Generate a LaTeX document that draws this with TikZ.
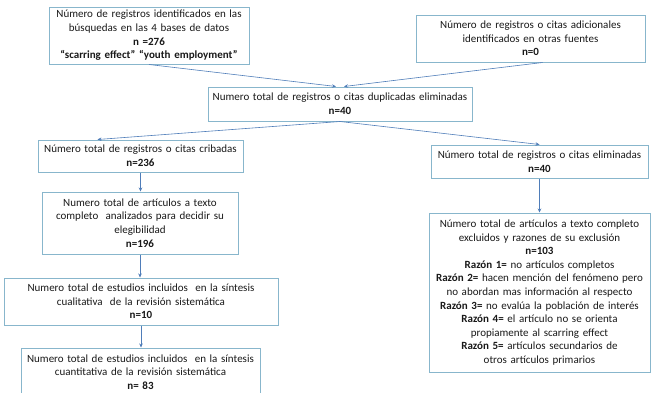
\documentclass[tikz,border=0pt]{standalone}
\usepackage{fontspec}
\setmainfont{Carlito}
\usetikzlibrary{calc,arrows.meta}
\definecolor{borde}{RGB}{136,182,204}
\definecolor{linea}{RGB}{79,125,185}
\definecolor{texto}{RGB}{25,25,25}
\tikzset{
  caja/.style={draw=borde,line width=1pt,fill=white,align=center,inner xsep=2pt,inner ysep=1pt,
    text=texto,font=\fontsize{11}{13.6}\selectfont},
  flecha/.style={draw=linea,line width=0.6pt,-{Stealth[length=4pt,width=3.5pt]}}
}
\newcommand\Caja[6]{
  \node[caja,text width=#4,minimum height=#5] (#1) at (#2,#3) {#6};
}
\begin{document}
\begin{tikzpicture}[x=1pt,y=-1pt]
\useasboundingbox[fill=white] (0,0) rectangle (653,392);
\Caja{busqueda}{149}{35.5}{196pt}{57pt}{Número de registros identificados en las\\búsquedas en las 4 bases de datos\\\textbf{n =276}\\\textbf{“scarring effect” “youth employment”}}
\Caja{otras}{530.5}{38.5}{225pt}{47pt}{Número de registros o citas adicionales\\identificados en otras fuentes\\\textbf{n=0}}
\Caja{duplicadas}{340}{104}{260pt}{34pt}{Numero total de registros o citas duplicadas eliminadas\\\textbf{n=40}}
\Caja{cribadas}{140.5}{156}{201pt}{32pt}{Número total de registros o citas cribadas\\\textbf{n=236}}
\Caja{eliminadas}{539.5}{161.5}{213pt}{33pt}{Número total de registros o citas eliminadas\\\textbf{n=40}}
\Caja{elegibilidad}{140}{223}{192pt}{62pt}{Numero total de artículos a texto\\completo~ analizados para decidir su\\elegibilidad\\\textbf{n=196}}
\Caja{cualitativa}{141}{301.5}{270pt}{47pt}{Numero total de estudios incluidos~ en la síntesis\\cualitativa~ de la revisión sistemática\\\textbf{n=10}}
\Caja{cuantitativa}{140.5}{372}{235pt}{48pt}{Numero total de estudios incluidos~ en la síntesis\\cuantitativa de la revisión sistemática\\\textbf{n= 83}}
\Caja{excluidos}{539.5}{292.5}{217pt}{159pt}{Número total de artículos a texto completo\\excluidos y razones de su exclusión\\\textbf{n=103}\\\textbf{Razón 1=} no artículos completos\\\textbf{Razón 2=} hacen mención del fenómeno pero\\no abordan mas información al respecto\\\textbf{Razón 3=} no evalúa la población de interés\\\textbf{Razón 4=} el artículo no se orienta\\propiamente al scarring effect\\\textbf{Razón 5=} artículos secundarios de\\otros artículos primarios}
\draw[flecha] (busqueda.south) -- ($(duplicadas.north)+(-4,0)$);
\draw[flecha] ($(otras.south)+(12,0)$) -- ($(duplicadas.north)+(4,0)$);
\draw[flecha] (duplicadas.south) -- ($(cribadas.north)+(-43,0)$);
\draw[flecha] (duplicadas.south) -- (eliminadas.north);
\draw[flecha] (cribadas.south) -- (cribadas.south |- elegibilidad.north);
\draw[flecha] (eliminadas.south) -- (excluidos.north);
\draw[flecha] (elegibilidad.south) -- (elegibilidad.south |- cualitativa.north);
\draw[flecha] (cualitativa.south) -- (cualitativa.south |- cuantitativa.north);
\end{tikzpicture}
\end{document}
